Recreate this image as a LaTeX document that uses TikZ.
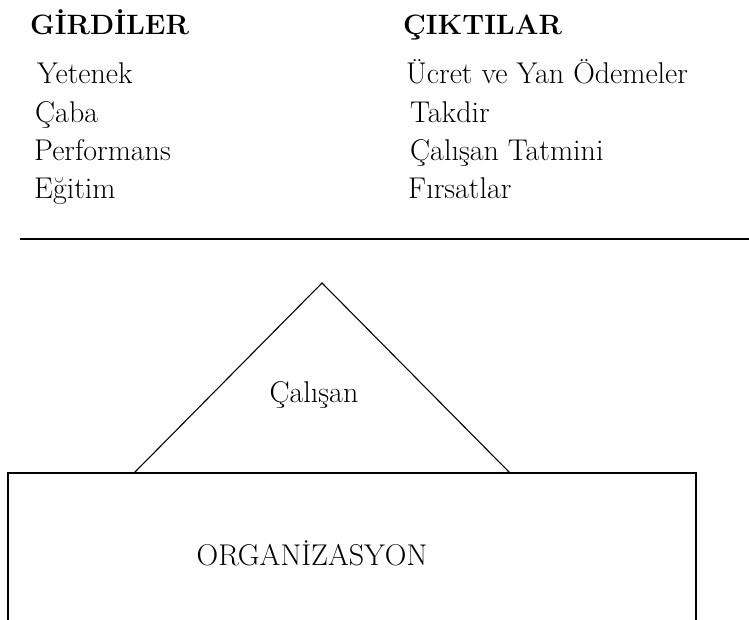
\documentclass[tikz,border=0pt]{standalone}
\usepackage{fontspec}
\begin{document}
\begin{tikzpicture}[x=1pt,y=-1pt,
  txt/.style={anchor=base west,inner sep=0pt,font=\fontsize{30}{36}\selectfont},
  head/.style={anchor=base west,inner sep=0pt,font=\fontsize{28}{34}\selectfont\bfseries},
  mid/.style={anchor=base,inner sep=0pt,font=\fontsize{30}{36}\selectfont},
  thin/.style={line width=1.1pt},
  thick/.style={line width=2pt}]
\useasboundingbox (0,0) rectangle (749,619);
\clip (0,0) rectangle (749,619);
% headings
\node[head] (gir) at (30,34) {GİRDİLER};
\node[head] (cik) at (403,34) {ÇIKTILAR};
% inputs
\node[txt] (i1) at (37,83) {Yetenek};
\node[txt] (i2) at (35,122) {Çaba};
\node[txt] (i3) at (34,160) {Performans};
\node[txt] (i4) at (34,198) {Eğitim};
% outputs
\node[txt] (o1) at (406,83) {Ücret ve Yan Ödemeler};
\node[txt] (o2) at (410,122) {Takdir};
\node[txt] (o3) at (410,160) {Çalışan Tatmini};
\node[txt] (o4) at (408,198) {Fırsatlar};
% separator
\coordinate (hl) at (20,239);
\coordinate (hr) at (749,239);
\draw[thick] (hl) -- (hr);
% triangle
\coordinate (apex) at (322,283);
\coordinate (tl) at (134,473);
\coordinate (tr) at (510,473);
\draw[thin] (tl) -- (apex) -- (tr);
\node[mid] (emp) at (314,402) {Çalışan};
% organization box
\coordinate (r1) at (8,473);
\coordinate (r2) at (696,625);
\draw[thin] (r1) rectangle (r2);
\draw[thick] (r1) -- (696,473);
\node[mid,font=\fontsize{30}{36}\selectfont\addfontfeature{LetterSpace=5}] (org) at (312,565) {ORGANİZASYON};
\end{tikzpicture}
\end{document}
